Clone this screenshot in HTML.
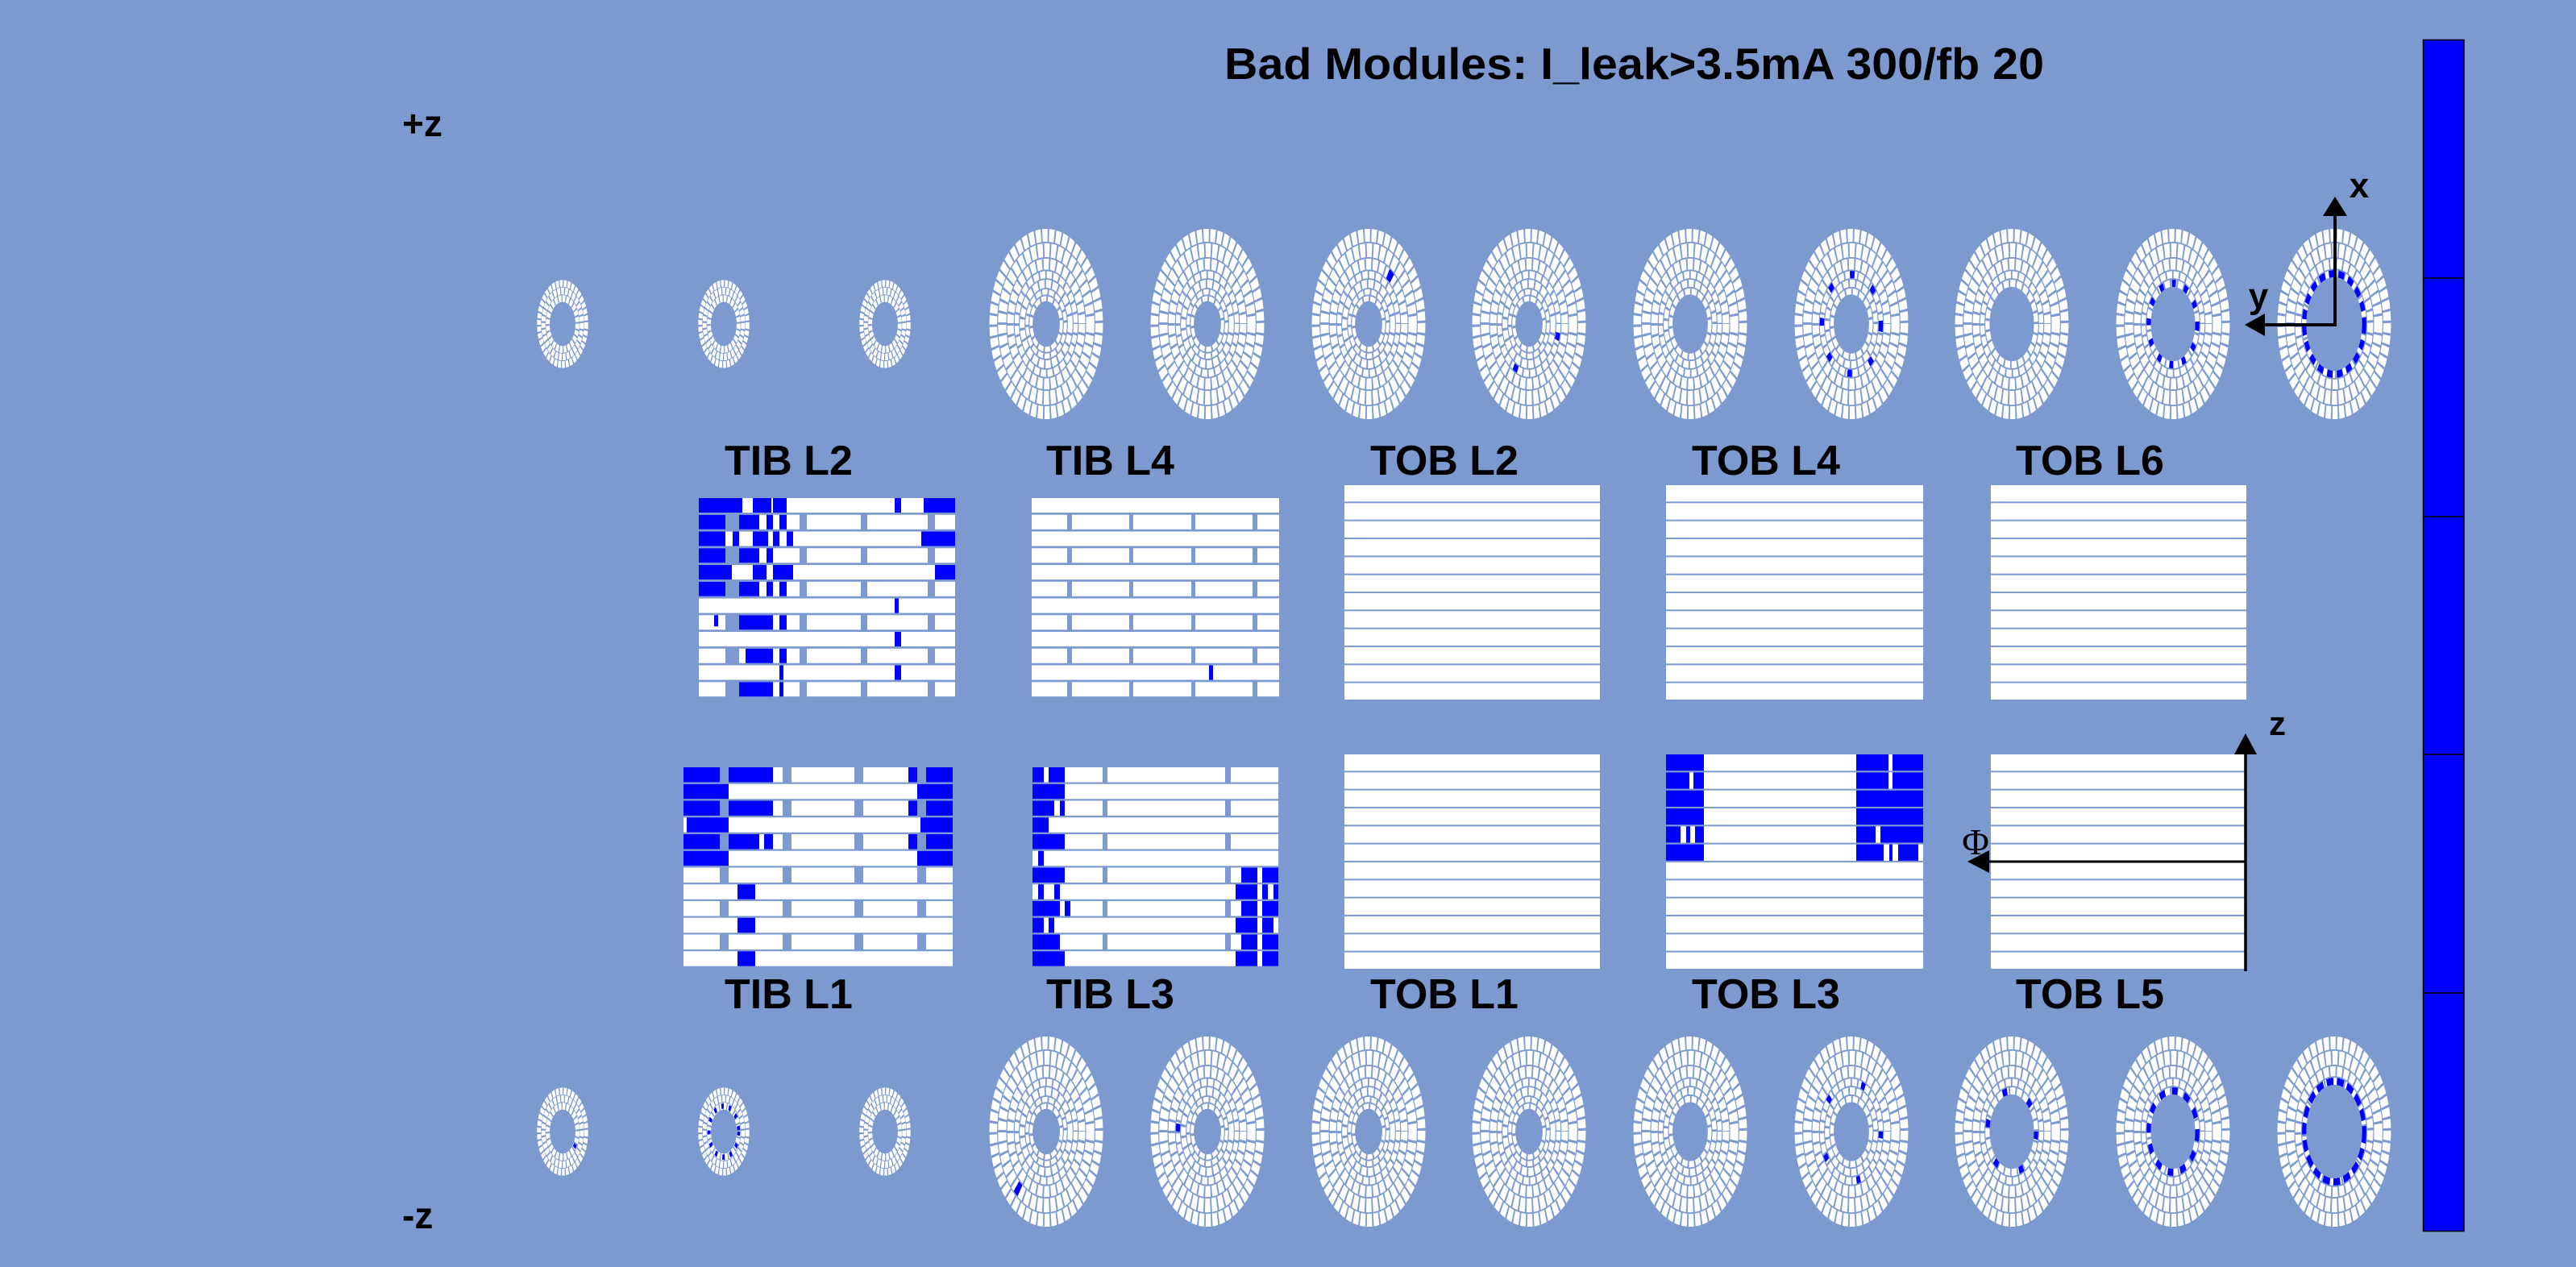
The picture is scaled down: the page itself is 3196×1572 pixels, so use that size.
<!DOCTYPE html>
<html><head><meta charset="utf-8"><style>
html,body{margin:0;padding:0;background:#7c9ad0;}
svg{display:block;}
text{font-family:"Liberation Sans",sans-serif;font-weight:bold;fill:#000;}
</style></head><body>
<svg width="3196" height="1572" viewBox="0 0 3196 1572" xmlns="http://www.w3.org/2000/svg">
<defs>
<g id="dA" fill="none" stroke="#fff" stroke-dasharray="9 2.6">
<circle r="92.5" stroke-width="13.4"/><circle r="77" stroke-width="14.4"/><circle r="62.5" stroke-width="11.4"/><circle r="51.5" stroke-width="7.4"/><circle r="42" stroke-width="8.4"/><circle r="33.5" stroke-width="5.4"/><circle r="26.5" stroke-width="5.4"/>
</g>
<g id="dB" fill="none" stroke="#fff" stroke-dasharray="9 2.6">
<circle r="92.5" stroke-width="13.4"/><circle r="77" stroke-width="14.4"/><circle r="62.5" stroke-width="11.4"/><circle r="51.5" stroke-width="7.4"/><circle r="42.5" stroke-width="7.4"/><circle r="34" stroke-width="6.4"/>
</g>
<g id="dC" fill="none" stroke="#fff" stroke-dasharray="9 2.6">
<circle r="92.5" stroke-width="13.4"/><circle r="77" stroke-width="14.4"/><circle r="62.5" stroke-width="11.4"/><circle r="51.5" stroke-width="7.4"/><circle r="42.5" stroke-width="7.4"/>
</g>
<g id="dD" fill="none" stroke="#fff" stroke-dasharray="9 2.6">
<circle r="92.5" stroke-width="13.4"/><circle r="77" stroke-width="14.4"/><circle r="63" stroke-width="10.4"/><circle r="52.5" stroke-width="7.4"/>
</g>
<g id="dS" fill="none" stroke="#fff" stroke-dasharray="11 4">
<circle r="91.5" stroke-width="15.4"/><circle r="74.5" stroke-width="15.4"/><circle r="57.5" stroke-width="15.4"/>
</g>
<pattern id="pL2" x="867" y="618" width="400" height="41.5" patternUnits="userSpaceOnUse">
<rect x="0" y="0" width="400" height="18" fill="#fff"/><rect x="0" y="20.75" width="400" height="18" fill="#fff"/>
<g fill="#7c9ad0"><rect x="33" y="20" width="17" height="20"/><rect x="125" y="20" width="9" height="20"/><rect x="201" y="20" width="8" height="20"/><rect x="284" y="20" width="9" height="20"/></g>
</pattern>
<pattern id="pL4" x="1280" y="618" width="400" height="41.5" patternUnits="userSpaceOnUse">
<rect x="0" y="0" width="400" height="18" fill="#fff"/><rect x="0" y="20.75" width="400" height="18" fill="#fff"/>
<g fill="#7c9ad0"><rect x="44" y="20" width="6" height="20"/><rect x="121" y="20" width="5" height="20"/><rect x="198" y="20" width="5" height="20"/><rect x="274" y="20" width="6" height="20"/></g>
</pattern>
<pattern id="pL1" x="848" y="952" width="400" height="41.5" patternUnits="userSpaceOnUse">
<rect x="0" y="0" width="400" height="18.5" fill="#fff"/><rect x="0" y="20.75" width="400" height="18.5" fill="#fff"/>
<g fill="#7c9ad0"><rect x="45" y="0" width="11" height="19"/><rect x="123" y="0" width="11" height="19"/><rect x="212" y="0" width="11" height="19"/><rect x="290" y="0" width="11" height="19"/></g>
</pattern>
<pattern id="pL3" x="1281" y="952" width="400" height="41.5" patternUnits="userSpaceOnUse">
<rect x="0" y="0" width="400" height="18.5" fill="#fff"/><rect x="0" y="20.75" width="400" height="18.5" fill="#fff"/>
<g fill="#7c9ad0"><rect x="87" y="0" width="6" height="19"/><rect x="239" y="0" width="7" height="19"/></g>
</pattern>
<pattern id="pT1" x="0" y="602" width="4000" height="22.33" patternUnits="userSpaceOnUse"><rect x="0" y="0" width="4000" height="20.3" fill="#fff"/></pattern>
<pattern id="pT2" x="0" y="936" width="4000" height="22.33" patternUnits="userSpaceOnUse"><rect x="0" y="0" width="4000" height="20.3" fill="#fff"/></pattern>
</defs>

<rect width="3196" height="1572" fill="#7c9ad0"/>

<text x="1519" y="98" font-size="55" textLength="1017" lengthAdjust="spacingAndGlyphs">Bad Modules: I_leak&gt;3.5mA 300/fb 20</text>
<text x="499" y="169" font-size="46">+z</text>
<text x="499" y="1524" font-size="46">-z</text>

<!-- top disks -->
<g transform="translate(698,402) scale(0.32,0.55)"><use href="#dS"/></g>
<g transform="translate(898,402) scale(0.32,0.55)"><use href="#dS"/></g>
<g transform="translate(1098,402) scale(0.32,0.55)"><use href="#dS"/></g>
<g transform="translate(1298,402) scale(0.71,1.19)"><use href="#dA"/></g>
<g transform="translate(1498,402) scale(0.71,1.19)"><use href="#dA"/></g>
<g transform="translate(1698,402) scale(0.71,1.19)"><use href="#dA"/><circle r="62.5" fill="none" stroke="#0000ff" stroke-width="11.4" stroke-dasharray="9 1000" stroke-dashoffset="-330"/></g>
<g transform="translate(1897,402) scale(0.71,1.19)"><use href="#dA"/><circle r="51.5" fill="none" stroke="#0000ff" stroke-width="7.4" stroke-dasharray="8 84 8 1000" stroke-dashoffset="-9"/></g>
<g transform="translate(2097,402) scale(0.71,1.19)"><use href="#dB"/></g>
<g transform="translate(2297,402) scale(0.71,1.19)"><use href="#dB"/><circle r="51.5" fill="none" stroke="#0000ff" stroke-width="7.4" stroke-dasharray="8 32"/></g>
<g transform="translate(2496,402) scale(0.71,1.19)"><use href="#dC"/></g>
<g transform="translate(2696,402) scale(0.71,1.19)"><use href="#dC"/><circle r="42.5" fill="none" stroke="#0000ff" stroke-width="7.4" stroke-dasharray="7 15"/></g>
<g transform="translate(2896,402) scale(0.71,1.19)"><use href="#dD"/><circle r="52.5" fill="none" stroke="#0000ff" stroke-width="7.4" stroke-dasharray="10 7"/></g>

<!-- bottom disks -->
<g transform="translate(698,1404) scale(0.32,0.55)"><use href="#dS"/><circle r="57.5" fill="none" stroke="#0000ff" stroke-width="12" stroke-dasharray="9 1000" stroke-dashoffset="-30"/></g>
<g transform="translate(898,1404) scale(0.32,0.55)"><use href="#dS"/><circle r="57.5" fill="none" stroke="#0000ff" stroke-width="12" stroke-dasharray="9 20"/></g>
<g transform="translate(1098,1404) scale(0.32,0.55)"><use href="#dS"/></g>
<g transform="translate(1298,1404) scale(0.71,1.19)"><use href="#dA"/><circle r="77" fill="none" stroke="#0000ff" stroke-width="14" stroke-dasharray="8 1000" stroke-dashoffset="-170"/></g>
<g transform="translate(1498,1404) scale(0.71,1.19)"><use href="#dA"/><circle r="51.5" fill="none" stroke="#0000ff" stroke-width="7.4" stroke-dasharray="8 1000" stroke-dashoffset="-162"/></g>
<g transform="translate(1698,1404) scale(0.71,1.19)"><use href="#dA"/></g>
<g transform="translate(1897,1404) scale(0.71,1.19)"><use href="#dA"/></g>
<g transform="translate(2097,1404) scale(0.71,1.19)"><use href="#dB"/></g>
<g transform="translate(2297,1404) scale(0.71,1.19)"><use href="#dB"/><circle r="51.5" fill="none" stroke="#0000ff" stroke-width="7.4" stroke-dasharray="7 58"/></g>
<g transform="translate(2496,1404) scale(0.71,1.19)"><use href="#dC"/><circle r="42.5" fill="none" stroke="#0000ff" stroke-width="7.4" stroke-dasharray="8 38"/></g>
<g transform="translate(2696,1404) scale(0.71,1.19)"><use href="#dC"/><circle r="42.5" fill="none" stroke="#0000ff" stroke-width="7.4" stroke-dasharray="10 12"/></g>
<g transform="translate(2896,1404) scale(0.71,1.19)"><use href="#dD"/><circle r="52.5" fill="none" stroke="#0000ff" stroke-width="7.4" stroke-dasharray="12 6"/></g>

<!-- labels -->
<g font-size="52">
<text x="899" y="589">TIB L2</text><text x="1298" y="589">TIB L4</text><text x="1700" y="589">TOB L2</text><text x="2099" y="589">TOB L4</text><text x="2501" y="589">TOB L6</text>
<text x="899" y="1251">TIB L1</text><text x="1298" y="1251">TIB L3</text><text x="1700" y="1251">TOB L1</text><text x="2099" y="1251">TOB L3</text><text x="2501" y="1251">TOB L5</text>
</g>

<!-- TIB panels -->
<rect x="867" y="618" width="318" height="246.3" fill="url(#pL2)"/>
<rect x="1280" y="618" width="307" height="246.3" fill="url(#pL4)"/>
<rect x="848" y="952" width="334" height="247" fill="url(#pL1)"/>
<rect x="1281" y="952" width="305" height="247" fill="url(#pL3)"/>

<!-- TOB panels -->
<rect x="1668" y="602" width="317" height="266" fill="url(#pT1)"/>
<rect x="2067" y="602" width="319" height="266" fill="url(#pT1)"/>
<rect x="2470" y="602" width="317" height="266" fill="url(#pT1)"/>
<rect x="1668" y="936" width="317" height="266" fill="url(#pT2)"/>
<rect x="2067" y="936" width="319" height="266" fill="url(#pT2)"/>
<rect x="2470" y="936" width="317" height="266" fill="url(#pT2)"/>

<g fill="#0000ff">
<rect x="867" y="618" width="54" height="18"/><rect x="934" y="618" width="23" height="18"/><rect x="959" y="618" width="17" height="18"/><rect x="1110" y="618" width="8" height="18"/><rect x="1146" y="618" width="39" height="18"/>
<rect x="867" y="638.75" width="33" height="18"/><rect x="917" y="638.75" width="25" height="18"/><rect x="951" y="638.75" width="8" height="18"/><rect x="967" y="638.75" width="9" height="18"/>
<rect x="867" y="659.5" width="33" height="18"/><rect x="909" y="659.5" width="8" height="18"/><rect x="934" y="659.5" width="19" height="18"/><rect x="959" y="659.5" width="8" height="18"/><rect x="976" y="659.5" width="8" height="18"/><rect x="1143" y="659.5" width="42" height="18"/>
<rect x="867" y="680.25" width="33" height="18"/><rect x="917" y="680.25" width="25" height="18"/><rect x="951" y="680.25" width="8" height="18"/>
<rect x="867" y="701" width="41" height="18"/><rect x="934" y="701" width="17" height="18"/><rect x="959" y="701" width="25" height="18"/><rect x="1160" y="701" width="25" height="18"/>
<rect x="867" y="721.75" width="33" height="18"/><rect x="917" y="721.75" width="25" height="18"/><rect x="951" y="721.75" width="8" height="18"/><rect x="967" y="721.75" width="9" height="18"/>
<rect x="1110" y="742.5" width="5" height="18"/>
<rect x="886" y="763.25" width="5" height="14"/><rect x="917" y="763.25" width="42" height="18"/><rect x="967" y="763.25" width="9" height="18"/>
<rect x="1110" y="784" width="8" height="18"/>
<rect x="925" y="804.75" width="34" height="18"/><rect x="967" y="804.75" width="9" height="18"/>
<rect x="967" y="825.5" width="5" height="18"/><rect x="1110" y="825.5" width="8" height="18"/>
<rect x="917" y="846.25" width="42" height="18"/><rect x="967" y="846.25" width="5" height="18"/>
<rect x="1500" y="825.5" width="5" height="18"/>
<rect x="848" y="952" width="45" height="18.5"/><rect x="904" y="952" width="55" height="18.5"/><rect x="1127" y="952" width="11" height="18.5"/><rect x="1149" y="952" width="33" height="18.5"/>
<rect x="848" y="972.75" width="56" height="18.5"/><rect x="1138" y="972.75" width="44" height="18.5"/>
<rect x="848" y="993.5" width="45" height="18.5"/><rect x="904" y="993.5" width="55" height="18.5"/><rect x="1127" y="993.5" width="11" height="18.5"/><rect x="1149" y="993.5" width="33" height="18.5"/>
<rect x="852" y="1014.25" width="52" height="18.5"/><rect x="1142" y="1014.25" width="40" height="18.5"/>
<rect x="848" y="1035" width="45" height="18.5"/><rect x="904" y="1035" width="38" height="18.5"/><rect x="948" y="1035" width="11" height="18.5"/><rect x="1127" y="1035" width="11" height="18.5"/><rect x="1149" y="1035" width="33" height="18.5"/>
<rect x="848" y="1055.75" width="56" height="18.5"/><rect x="1138" y="1055.75" width="44" height="18.5"/>
<rect x="915" y="1097.25" width="22" height="18.5"/><rect x="915" y="1138.75" width="22" height="18.5"/><rect x="915" y="1180.25" width="22" height="18.5"/>
<rect x="1281" y="952" width="14" height="18.5"/><rect x="1301" y="952" width="20" height="18.5"/>
<rect x="1281" y="972.75" width="40" height="18.5"/>
<rect x="1281" y="993.5" width="27" height="18.5"/><rect x="1315" y="993.5" width="6" height="18.5"/>
<rect x="1281" y="1014.25" width="20" height="18.5"/>
<rect x="1281" y="1035" width="40" height="18.5"/>
<rect x="1288" y="1055.75" width="7" height="18.5"/>
<rect x="1281" y="1076.5" width="40" height="18.5"/><rect x="1540" y="1076.5" width="20" height="18.5"/><rect x="1566" y="1076.5" width="20" height="18.5"/>
<rect x="1288" y="1097.25" width="7" height="18.5"/><rect x="1308" y="1097.25" width="7" height="18.5"/><rect x="1533" y="1097.25" width="27" height="18.5"/><rect x="1566" y="1097.25" width="7" height="18.5"/><rect x="1580" y="1097.25" width="6" height="18.5"/>
<rect x="1281" y="1118" width="34" height="18.5"/><rect x="1321" y="1118" width="7" height="18.5"/><rect x="1540" y="1118" width="20" height="18.5"/><rect x="1566" y="1118" width="20" height="18.5"/>
<rect x="1281" y="1138.75" width="14" height="18.5"/><rect x="1301" y="1138.75" width="7" height="18.5"/><rect x="1533" y="1138.75" width="27" height="18.5"/><rect x="1566" y="1138.75" width="14" height="18.5"/>
<rect x="1281" y="1159.5" width="34" height="18.5"/><rect x="1540" y="1159.5" width="20" height="18.5"/><rect x="1566" y="1159.5" width="20" height="18.5"/>
<rect x="1281" y="1180.25" width="40" height="18.5"/><rect x="1533" y="1180.25" width="27" height="18.5"/><rect x="1566" y="1180.25" width="20" height="18.5"/>
<rect x="2067" y="936" width="47" height="20.3"/><rect x="2303" y="936" width="40" height="20.3"/><rect x="2348" y="936" width="38" height="20.3"/>
<rect x="2067" y="958.33" width="29" height="20.3"/><rect x="2101" y="958.33" width="13" height="20.3"/><rect x="2303" y="958.33" width="40" height="20.3"/><rect x="2348" y="958.33" width="38" height="20.3"/>
<rect x="2067" y="980.66" width="47" height="20.3"/><rect x="2303" y="980.66" width="83" height="20.3"/>
<rect x="2067" y="1003" width="47" height="20.3"/><rect x="2303" y="1003" width="83" height="20.3"/>
<rect x="2067" y="1025.3" width="18" height="20.3"/><rect x="2092" y="1025.3" width="5" height="20.3"/><rect x="2103" y="1025.3" width="11" height="20.3"/><rect x="2303" y="1025.3" width="24" height="20.3"/><rect x="2333" y="1025.3" width="53" height="20.3"/>
<rect x="2067" y="1047.6" width="47" height="20.3"/><rect x="2303" y="1047.6" width="34" height="20.3"/><rect x="2344" y="1047.6" width="4" height="20.3"/><rect x="2355" y="1047.6" width="25" height="20.3"/>
</g>

<line x1="2786" y1="1205" x2="2786" y2="934" stroke="#000" stroke-width="3.5"/>
<polygon points="2786,910 2772,936 2800,936" fill="#000"/>
<text x="2815" y="912" font-size="42">z</text>
<line x1="2786" y1="1069" x2="2466" y2="1069" stroke="#000" stroke-width="3"/>
<polygon points="2441,1069 2468,1055 2468,1083" fill="#000"/>
<text x="2451" y="1060" font-size="46" text-anchor="middle" style="font-family:'Liberation Serif',serif;font-weight:normal">Φ</text>

<line x1="2897" y1="405" x2="2897" y2="266" stroke="#000" stroke-width="4"/>
<polygon points="2897,244 2882,268 2912,268" fill="#000"/>
<text x="2927" y="245" font-size="44" text-anchor="middle">x</text>
<line x1="2899" y1="403" x2="2808" y2="403" stroke="#000" stroke-width="4"/>
<polygon points="2785,403 2810,389 2810,417" fill="#000"/>
<text x="2802" y="382" font-size="44" text-anchor="middle">y</text>

<rect x="3006.5" y="49.5" width="50.5" height="1478" fill="#0000ff" stroke="#000" stroke-width="1.5"/>
<g stroke="#000" stroke-width="1.5"><line x1="3006" y1="345" x2="3057" y2="345"/><line x1="3006" y1="641" x2="3057" y2="641"/><line x1="3006" y1="936" x2="3057" y2="936"/><line x1="3006" y1="1232" x2="3057" y2="1232"/></g>
</svg>
</body></html>
